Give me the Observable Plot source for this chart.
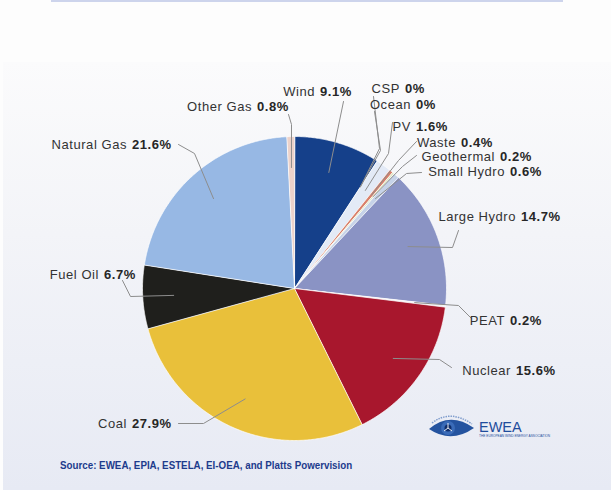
<!DOCTYPE html>
<html><head><meta charset="utf-8">
<script src="https://cdn.jsdelivr.net/npm/d3@7"></script>
<script src="https://cdn.jsdelivr.net/npm/@observablehq/plot@0.6"></script>
<style>
body{margin:0;background:#fff;}
#page{position:relative;width:611px;height:490px;overflow:hidden;background:#fdfdfd;}
#topline{position:absolute;left:51px;top:0;width:512px;height:2px;background:#cdd4ec;}
#panel{position:absolute;left:3px;top:62px;right:0;bottom:0;background:linear-gradient(#fbfbfc,#f3f4f8 40%,#e7eaf4);}
#chart{position:absolute;left:0;top:0;}
#source{position:absolute;left:60px;top:459px;font-family:"Liberation Sans",Arial,sans-serif;font-weight:bold;font-size:11.5px;color:#1d3b8c;white-space:nowrap;transform:scaleX(0.85);transform-origin:0 0;}
#logo{position:absolute;left:0;top:0;}
</style>
</head><body>
<div id="page">
  <div id="topline"></div>
  <div id="panel"></div>
  <div id="chart"></div>
  <svg id="logo" width="611" height="490">
    <path d="M429,429 Q450,411 474,428 Q451,444 429,429 Z" fill="#24539f"/>
    <path d="M432,423 Q450,409 472,424" fill="none" stroke="#7f9ccc" stroke-width="1.5" stroke-dasharray="1.5,1"/>
    <circle cx="448" cy="428" r="7" fill="#3a6bb8"/>
    <circle cx="448" cy="428" r="3.5" fill="#0f2d6a"/>
    <path d="M448,428 L448,423 M448,428 L444,431 M448,428 L452,431" stroke="#fff" stroke-width="0.9"/>
    <text x="479" y="432" font-family="Liberation Sans, Arial, sans-serif" font-size="14.5" fill="#1f4c9c">EWEA</text>
    <text x="479" y="437" font-family="Liberation Sans, Arial, sans-serif" font-size="3.2" fill="#1f4c9c">THE EUROPEAN WIND ENERGY ASSOCIATION</text>
  </svg>
  <div id="source">Source: EWEA, EPIA, ESTELA, EI-OEA, and Platts Powervision</div>
</div>
<script>
// ---- data ----
const sources = ["Wind","CSP","Ocean","PV","Waste","Geothermal","Small Hydro","Large Hydro","PEAT","Nuclear","Coal","Fuel Oil","Natural Gas","Other Gas"];
const shares  = [9.1, 0, 0, 1.6, 0.4, 0.2, 0.6, 14.7, 0.2, 15.6, 27.9, 6.7, 21.6, 0.8];
const valueLabels = ["9.1%","0%","0%","1.6%","0.4%","0.2%","0.6%","14.7%","0.2%","15.6%","27.9%","6.7%","21.6%","0.8%"];

// ---- styles ----
const colors = ["#15408a","#dfe7f3","#dfe7f3","#e3eaf6","#d9806a","#dfe6bf","#c6d3e8","#8a93c4","#f2f2f4","#a8172d","#e9c03a","#1f1f1c","#97b8e4","#ecd2ca"];

// ---- layout (page pixels) ----
const W = 611, H = 450, cx = 294, cy = 288, R = 152, rLead = 121;
const labelLayout = {
  "Wind":        {x:317, y:91,  path:[[343,101]]},
  "Other Gas":   {x:254, y:106, path:[[288,114],[291,124]]},
  "CSP":         {x:402, y:88,  path:[[373,96],[379,148]]},
  "Ocean":       {x:413, y:104, path:[[374,111],[380,150]]},
  "PV":          {x:413, y:126, path:[[392,122],[388,153]]},
  "Waste":       {x:458, y:142, path:[[416,141],[398,160]]},
  "Geothermal":  {x:497, y:156, path:[[416,155],[402,166]]},
  "Small Hydro": {x:507, y:171, path:[[421,172],[406,173]]},
  "Large Hydro": {x:518, y:216, path:[[458,230],[452,247]]},
  "PEAT":        {x:507, y:320, path:[[471,318],[458,305]]},
  "Nuclear":     {x:513, y:370, path:[[451,367],[439,359]]},
  "Coal":        {x:129, y:423, path:[[178,423],[203,423]]},
  "Fuel Oil":    {x:101, y:274, path:[[122,280],[130,296]]},
  "Natural Gas": {x:129, y:144, path:[[178,144],[194,153]]}
};

const table = sources.map((s, i) => ({name: s, share: shares[i], label: valueLabels[i]}));
const arcs = d3.pie().sort(null).value(d => d.share).startAngle(0).endAngle(2 * Math.PI)(table);

// slice polygons in pie space (relative to centre, y down)
const slicePts = [];
for (const a of arcs) {
  if (a.endAngle - a.startAngle <= 0) continue;
  const n = Math.max(2, Math.ceil((a.endAngle - a.startAngle) / (Math.PI / 360)));
  slicePts.push({name: a.data.name, x: 0, y: 0});
  for (let k = 0; k <= n; k++) {
    const t = a.startAngle + (a.endAngle - a.startAngle) * k / n;
    slicePts.push({name: a.data.name, x: R * Math.sin(t), y: -R * Math.cos(t)});
  }
}

// leader lines
const leaderPts = [];
const labels = [];
for (const a of arcs) {
  const L = labelLayout[a.data.name];
  const mid = (a.startAngle + a.endAngle) / 2;
  L.path.forEach(p => leaderPts.push({name: a.data.name, x: p[0] - cx, y: p[1] - cy}));
  leaderPts.push({name: a.data.name, x: rLead * Math.sin(mid), y: -rLead * Math.cos(mid)});
  labels.push({name: a.data.name, label: a.data.label, x: L.x - cx, y: L.y - cy});
}

const font = "Liberation Sans, Arial, sans-serif";
const chart = Plot.plot({
  width: W, height: H,
  margin: 0,
  x: {domain: [-cx, W - cx], range: [0, W], axis: null},
  y: {domain: [-cy, H - cy], range: [0, H], axis: null},
  color: {domain: sources, range: colors},
  style: {background: "transparent", overflow: "visible", letterSpacing: "0.55px"},
  marks: [
    Plot.line(slicePts, {x: "x", y: "y", z: "name", fill: "name", stroke: "#ffffff", strokeWidth: 0.7, curve: "linear-closed"}),
    Plot.line(leaderPts, {x: "x", y: "y", z: "name", stroke: "#8d8d8d", strokeWidth: 1}),
    Plot.text(labels, {x: d => d.x - 2.5, y: "y", text: "name", textAnchor: "end", fontSize: 13, fontFamily: font, fill: "#333333"}),
    Plot.text(labels, {x: d => d.x + 2.5, y: "y", text: "label", textAnchor: "start", fontSize: 13, fontWeight: "bold", fontFamily: font, fill: "#262626"})
  ]
});
document.getElementById("chart").appendChild(chart);
</script>
</body></html>
